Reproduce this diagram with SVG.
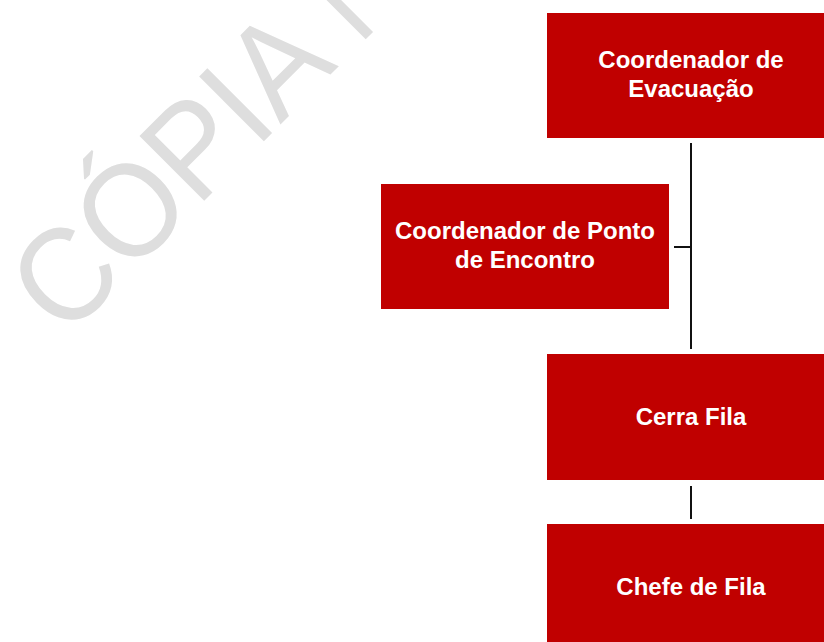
<svg xmlns="http://www.w3.org/2000/svg" width="824" height="642" viewBox="0 0 824 642">
<style>
.box{fill:#C00000}
.lbl{font-family:"Liberation Sans",Arial,sans-serif;font-weight:bold;font-size:24px;fill:#FFFFFF;text-anchor:middle}
.wm{font-family:"Liberation Sans",Arial,sans-serif;font-size:133px;fill:#DEDEDE}
.conn{stroke:#111111;stroke-width:2;fill:none}
</style>
<rect width="824" height="642" fill="#FFFFFF"/>
<g id="watermark">
<text class="wm" transform="translate(65,340) rotate(-45)" x="0" y="0" textLength="505" lengthAdjust="spacingAndGlyphs">CÓPIA N</text>
</g>
<g id="connectors">
<line class="conn" x1="691" y1="143" x2="691" y2="349"/>
<line class="conn" x1="674" y1="247" x2="691" y2="247"/>
<line class="conn" x1="691" y1="486" x2="691" y2="519"/>
</g>
<g id="coordenador-evacuacao">
<rect class="box" x="547" y="13" width="288" height="125"/>
<text class="lbl" x="691" y="68">Coordenador de</text>
<text class="lbl" x="691" y="97">Evacuação</text>
</g>
<g id="coordenador-ponto-encontro">
<rect class="box" x="381" y="184" width="288" height="125"/>
<text class="lbl" x="525" y="239">Coordenador de Ponto</text>
<text class="lbl" x="525" y="268">de Encontro</text>
</g>
<g id="cerra-fila">
<rect class="box" x="547" y="354" width="288" height="126"/>
<text class="lbl" x="691" y="425">Cerra Fila</text>
</g>
<g id="chefe-de-fila">
<rect class="box" x="547" y="524" width="288" height="126"/>
<text class="lbl" x="691" y="595">Chefe de Fila</text>
</g>
</svg>
